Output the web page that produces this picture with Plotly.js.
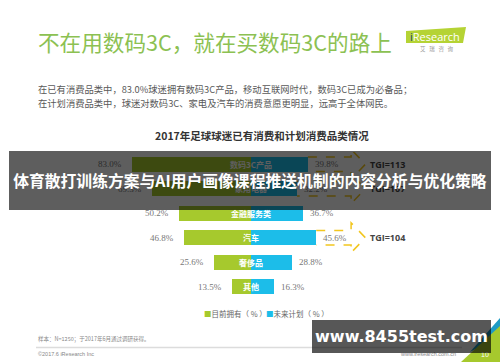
<!DOCTYPE html>
<html>
<head>
<meta charset="utf-8">
<script src="https://cdn.plot.ly/plotly-3.0.1.min.js"></script>
<style>html,body{margin:0;padding:0;background:#fff;}#chart{width:500px;height:362px;}</style>
</head>
<body>
<div id="chart"></div>
<script>
// ---- data ----
const categories = ['数码3C产品', '家用电器', '金融服务类', '汽车', '奢侈品', '其他'];
const ownNow = [83.0, 69.3, 50.2, 46.8, 25.6, 13.5];       // 目前拥有（%）
const planFuture = [39.8, 32.2, 36.7, 45.6, 28.8, 16.3];   // 未来计划（%）
const tgiCategories = ['数码3C产品', '家用电器', '汽车'];
const tgiValues = [113, 107, 104];
const seriesNames = ['目前拥有（%）', '未来计划（%）'];

// ---- layout geometry ----
const W = 500, H = 362;
const M = {l: 108, r: 106, t: 152, b: 63};
const PW = W - M.l - M.r, PH = H - M.t - M.b;
const px = x => (x - M.l) / PW;          // pixel -> paper x
const py = y => (H - M.b - y) / PH;      // pixel -> paper y
const GREEN = '#a6c92d', BLUE = '#1cbde9', GOLD = '#f2c61f';
const CJK = '"Noto Sans CJK SC", "Noto Sans", sans-serif';
const NB = '\u00a0\u00a0\u00a0';

const rows = categories.map((c, i) => i);

const traces = [
  {type: 'bar', orientation: 'h', name: seriesNames[0], y: rows, x: ownNow.map(v => -v),
   marker: {color: GREEN}, width: 0.6, hoverinfo: 'skip', showlegend: false},
  {type: 'bar', orientation: 'h', name: seriesNames[1], y: rows, x: planFuture,
   marker: {color: BLUE}, width: 0.6, hoverinfo: 'skip', showlegend: false}
];

const annotations = [];
const shapes = [];

// value labels + category labels
categories.forEach((c, i) => {
  annotations.push({x: -ownNow[i], y: i, xref: 'x', yref: 'y', text: ownNow[i].toFixed(1) + '%',
    showarrow: false, xanchor: 'right', xshift: -8,
    font: {family: '"Liberation Serif", serif', size: 9, color: '#777'}});
  annotations.push({x: planFuture[i], y: i, xref: 'x', yref: 'y', text: planFuture[i].toFixed(1) + '%',
    showarrow: false, xanchor: 'left', xshift: 5,
    font: {family: '"Liberation Serif", serif', size: 9, color: '#777'}});
  annotations.push({x: 0, y: i, xref: 'x', yref: 'y', text: '<b>' + c + '</b>',
    showarrow: false, xanchor: 'center',
    font: {family: CJK, size: 8, color: '#fff'}});
});

// TGI dashed arrows
tgiCategories.forEach((c, k) => {
  const i = categories.indexOf(c);
  const v = planFuture[i];
  const xe = 70, xt = 80, hb = 0.3, ha = 0.61;
  shapes.push({type: 'path', xref: 'x', yref: 'y',
    path: `M ${v},${i - hb} L ${xe},${i - hb} L ${xe},${i - ha} L ${xt},${i} L ${xe},${i + ha} L ${xe},${i + hb} L ${v},${i + hb}`,
    line: {color: GOLD, width: 1.5, dash: 'dash'}});
  annotations.push({x: 82, y: i, xref: 'x', yref: 'y', text: '<b>TGI=' + tgiValues[k] + '</b>',
    showarrow: false, xanchor: 'left',
    font: {family: '"Open Sans", "DejaVu Sans", sans-serif', size: 9, color: '#444'}});
});

// header
annotations.push({xref: 'paper', yref: 'paper', x: px(36), y: py(41), xanchor: 'left', yanchor: 'middle',
  text: '不在用数码3C，就在买数码3C的路上', showarrow: false,
  font: {family: CJK, size: 21.6, color: '#8cc152'}});
annotations.push({xref: 'paper', yref: 'paper', x: px(36), y: py(89), xanchor: 'left', yanchor: 'middle',
  text: '在已有消费品类中，83.0%球迷拥有数码3C产品，移动互联网时代，数码3C已成为必备品；', showarrow: false,
  font: {family: CJK, size: 9.3, color: '#595959'}});
annotations.push({xref: 'paper', yref: 'paper', x: px(36), y: py(103), xanchor: 'left', yanchor: 'middle',
  text: '在计划消费品类中，球迷对数码3C、家电及汽车的消费意愿更明显，远高于全体网民。', showarrow: false,
  font: {family: CJK, size: 9.3, color: '#595959'}});
annotations.push({xref: 'paper', yref: 'paper', x: px(262), y: py(135), xanchor: 'center', yanchor: 'middle',
  text: '<b>2017年足球球迷已有消费和计划消费品类情况</b>', showarrow: false,
  font: {family: CJK, size: 10.5, color: '#333'}});

// logo
shapes.push({type: 'path', xref: 'paper', yref: 'paper',
  path: `M ${px(406)},${py(31)} L ${px(466)},${py(27)} L ${px(463)},${py(43)} L ${px(406)},${py(43)} Z`,
  fillcolor: '#b5d334', line: {width: 0}});
annotations.push({xref: 'paper', yref: 'paper', x: px(435), y: py(36), xanchor: 'center', yanchor: 'middle',
  text: '<span style="color:#1f3f7a">i</span>Research', showarrow: false,
  font: {family: '"Open Sans", sans-serif', size: 11, color: '#fff'}});
annotations.push({xref: 'paper', yref: 'paper', x: px(437), y: py(49), xanchor: 'center', yanchor: 'middle',
  text: ['艾', '瑞', '咨', '询'].join(NB), showarrow: false,
  font: {family: CJK, size: 5.5, color: '#999'}});

// legend
annotations.push({xref: 'paper', yref: 'paper', x: px(202), y: py(313), xanchor: 'left', yanchor: 'middle',
  text: '<span style="color:' + GREEN + '">■</span>' + seriesNames[0].replace('（%）', '（ % ）'), showarrow: false,
  font: {family: CJK, size: 7.5, color: '#666'}});
annotations.push({xref: 'paper', yref: 'paper', x: px(264), y: py(313), xanchor: 'left', yanchor: 'middle',
  text: '<span style="color:' + BLUE + '">■</span>' + seriesNames[1].replace('（%）', '（ % ）'), showarrow: false,
  font: {family: CJK, size: 7.5, color: '#666'}});

// footer
annotations.push({xref: 'paper', yref: 'paper', x: px(36), y: py(339), xanchor: 'left', yanchor: 'middle',
  text: '样本：N=1250；于2017年6月通过调研获得。', showarrow: false,
  font: {family: CJK, size: 5.5, color: '#888'}});
annotations.push({xref: 'paper', yref: 'paper', x: px(36), y: py(354), xanchor: 'left', yanchor: 'middle',
  text: '©2017.6 iResearch Inc', showarrow: false,
  font: {family: '"Liberation Sans", sans-serif', size: 5.5, color: '#888'}});
annotations.push({xref: 'paper', yref: 'paper', x: px(458), y: py(354), xanchor: 'right', yanchor: 'middle',
  text: 'www.iresearch.com.cn', showarrow: false,
  font: {family: '"Liberation Sans", sans-serif', size: 5.5, color: '#888'}});
shapes.push({type: 'line', xref: 'paper', yref: 'paper', x0: px(36), x1: px(462), y0: py(347.5), y1: py(347.5),
  line: {color: '#dcdcdc', width: 1.5}});
shapes.push({type: 'path', xref: 'paper', yref: 'paper',
  path: `M ${px(470)},${py(352)} L ${px(500)},${py(318)} L ${px(500)},${py(336)} Z`,
  fillcolor: '#1d9bc4', line: {width: 0}});
shapes.push({type: 'path', xref: 'paper', yref: 'paper',
  path: `M ${px(461)},${py(362)} L ${px(500)},${py(362)} L ${px(500)},${py(326)} Z`,
  fillcolor: '#a6c92d', line: {width: 0}});
annotations.push({xref: 'paper', yref: 'paper', x: px(485), y: py(354), xanchor: 'center', yanchor: 'middle',
  text: '10', showarrow: false,
  font: {family: '"Liberation Sans", sans-serif', size: 7, color: '#fff'}});

// overlay banner and watermark (drawn last, on top)
annotations.push({xref: 'paper', yref: 'paper', x: px(250), y: py(180.5), xanchor: 'center', yanchor: 'middle',
  width: 482, height: 59, bgcolor: 'rgba(0,0,0,0.63)', borderpad: 0, borderwidth: 0,
  text: '<b>体育散打训练方案与AI用户画像课程推送机制的内容分析与优化策略</b>', showarrow: false,
  font: {family: CJK, size: 15.8, color: '#fff'}});
annotations.push({xref: 'paper', yref: 'paper', x: px(401.5), y: py(336.5), xanchor: 'center', yanchor: 'middle',
  width: 179, height: 33, bgcolor: 'rgba(0,0,0,0.66)', borderpad: 0, borderwidth: 0,
  text: '<b>www.8455test.com</b>', showarrow: false,
  font: {family: '"DejaVu Sans", sans-serif', size: 16, color: '#fff'}});

const layout = {
  width: W, height: H, margin: M,
  paper_bgcolor: '#fff', plot_bgcolor: '#fff',
  barmode: 'overlay', bargap: 0,
  xaxis: {range: [-100, 100], visible: false, fixedrange: true},
  yaxis: {range: [5.5, -0.5], visible: false, fixedrange: true},
  showlegend: false,
  annotations: annotations,
  shapes: shapes
};

Plotly.newPlot('chart', traces, layout, {displayModeBar: false, staticPlot: true});
</script>
</body>
</html>
